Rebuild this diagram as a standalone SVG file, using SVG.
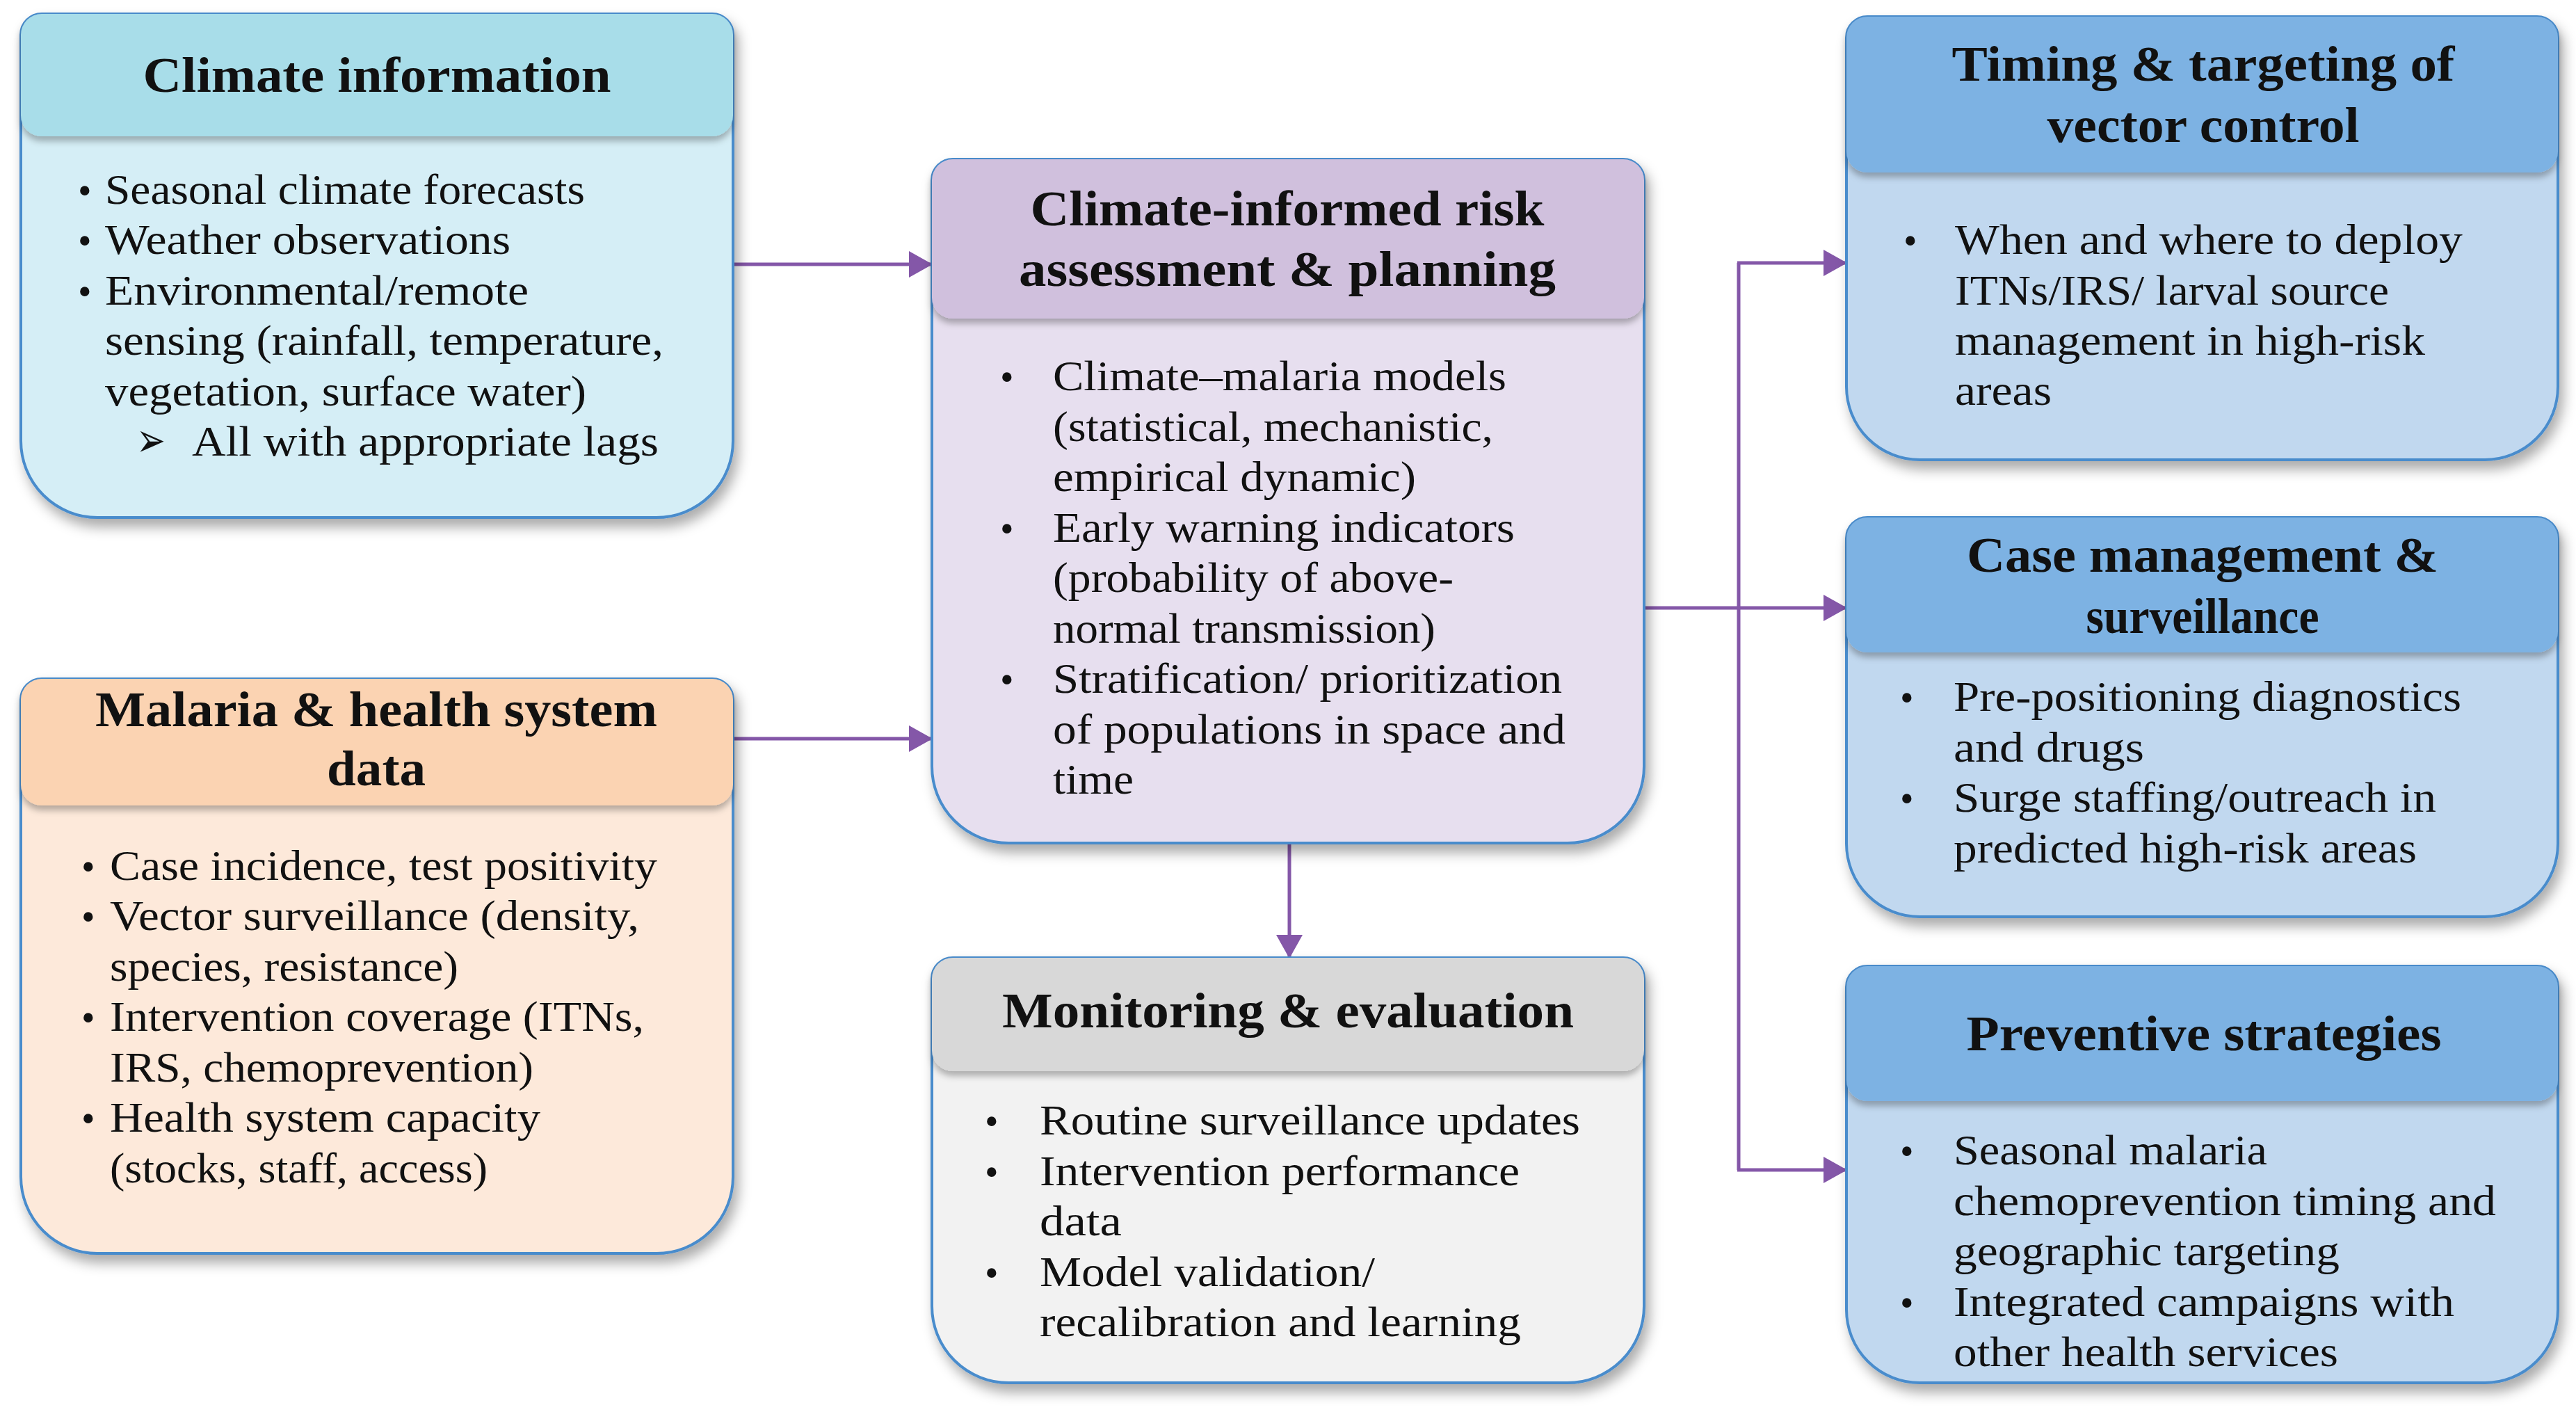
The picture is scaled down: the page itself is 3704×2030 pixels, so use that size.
<svg xmlns="http://www.w3.org/2000/svg" width="3704" height="2030" viewBox="0 0 3704 2030">
<style>
.t{font-family:"Liberation Serif","Times New Roman",serif;font-weight:bold;font-size:72px;fill:#111;text-anchor:middle}
.b{font-family:"Liberation Serif","Times New Roman",serif;font-size:62px;fill:#111}
.d{font-family:"Liberation Serif","Times New Roman",serif;font-size:56px;fill:#111}
.body{stroke:#4a8ccc;stroke-width:4;filter:url(#sh)}
.hd{filter:url(#hs)}
.cn{fill:none;stroke:#8457a8;stroke-width:5;marker-end:url(#ah)}
</style>
<defs>
<filter id="sh" x="-10%" y="-10%" width="125%" height="125%">
<feDropShadow dx="6" dy="12" stdDeviation="9" flood-color="#000" flood-opacity="0.33"/>
</filter>
<filter id="hs" x="-5%" y="-10%" width="115%" height="130%">
<feDropShadow dx="0" dy="7" stdDeviation="5" flood-color="#000" flood-opacity="0.28"/>
</filter>
<marker id="ah" viewBox="0 0 34 38" refX="33" refY="19" markerWidth="34" markerHeight="38" markerUnits="userSpaceOnUse" orient="auto">
<path d="M0,0 L34,19 L0,38 Z" fill="#8457a8"/>
</marker>
</defs>
<rect width="3704" height="2030" fill="#ffffff"/>

<g id="connectors">
<line class="cn" x1="1054" y1="380" x2="1340" y2="380"/>
<line class="cn" x1="1054" y1="1062" x2="1340" y2="1062"/>
<line class="cn" x1="1854" y1="1212" x2="1854" y2="1377"/>
<line class="cn" x1="2364" y1="874" x2="2655" y2="874"/>
<line x1="2500" y1="378" x2="2500" y2="1682" stroke="#8457a8" stroke-width="5"/>
<line class="cn" x1="2498" y1="378" x2="2655" y2="378"/>
<line class="cn" x1="2498" y1="1682" x2="2655" y2="1682"/>
</g>

<g id="climate-information">
<path class="body" fill="#d5eef6" d="M60,20 H1024 A30,30 0 0 1 1054,50 V634 A110,110 0 0 1 944,744 H140 A110,110 0 0 1 30,634 V50 A30,30 0 0 1 60,20 Z"/>
<rect class="hd" x="30" y="20" width="1024" height="176" rx="30" fill="#a8dde9"/>
<text class="t" x="542" y="132" textLength="673" lengthAdjust="spacingAndGlyphs">Climate information</text>
<text class="d" x="112" y="293">•</text>
<text class="b" x="151" y="293" textLength="690" lengthAdjust="spacingAndGlyphs">Seasonal climate forecasts</text>
<text class="d" x="112" y="365">•</text>
<text class="b" x="151" y="365" textLength="583" lengthAdjust="spacingAndGlyphs">Weather observations</text>
<text class="d" x="112" y="438">•</text>
<text class="b" x="151" y="438" textLength="609" lengthAdjust="spacingAndGlyphs">Environmental/remote</text>
<text class="b" x="151" y="510" textLength="803" lengthAdjust="spacingAndGlyphs">sensing (rainfall, temperature,</text>
<text class="b" x="151" y="583" textLength="692" lengthAdjust="spacingAndGlyphs">vegetation, surface water)</text>
<text x="196" y="656" font-family="DejaVu Sans, sans-serif" font-size="68" fill="#111" textLength="42" lengthAdjust="spacingAndGlyphs">➢</text>
<text class="b" x="276" y="655" textLength="671" lengthAdjust="spacingAndGlyphs">All with appropriate lags</text>
</g>

<g id="malaria-health-data">
<path class="body" fill="#fde9da" d="M60,976 H1024 A30,30 0 0 1 1054,1006 V1692 A110,110 0 0 1 944,1802 H140 A110,110 0 0 1 30,1692 V1006 A30,30 0 0 1 60,976 Z"/>
<rect class="hd" x="30" y="976" width="1024" height="182" rx="30" fill="#fbd3b2"/>
<text class="t" x="541" y="1044" textLength="808" lengthAdjust="spacingAndGlyphs">Malaria &amp; health system</text>
<text class="t" x="541" y="1129" textLength="142" lengthAdjust="spacingAndGlyphs">data</text>
<text class="d" x="117" y="1265">•</text>
<text class="b" x="158" y="1265" textLength="787" lengthAdjust="spacingAndGlyphs">Case incidence, test positivity</text>
<text class="d" x="117" y="1337">•</text>
<text class="b" x="158" y="1337" textLength="761" lengthAdjust="spacingAndGlyphs">Vector surveillance (density,</text>
<text class="b" x="158" y="1410" textLength="501" lengthAdjust="spacingAndGlyphs">species, resistance)</text>
<text class="d" x="117" y="1482">•</text>
<text class="b" x="158" y="1482" textLength="768" lengthAdjust="spacingAndGlyphs">Intervention coverage (ITNs,</text>
<text class="b" x="158" y="1555" textLength="609" lengthAdjust="spacingAndGlyphs">IRS, chemoprevention)</text>
<text class="d" x="117" y="1627">•</text>
<text class="b" x="158" y="1627" textLength="619" lengthAdjust="spacingAndGlyphs">Health system capacity</text>
<text class="b" x="158" y="1700" textLength="543" lengthAdjust="spacingAndGlyphs">(stocks, staff, access)</text>
</g>

<g id="risk-assessment">
<path class="body" fill="#e7dfef" d="M1370,229 H2334 A30,30 0 0 1 2364,259 V1102 A110,110 0 0 1 2254,1212 H1450 A110,110 0 0 1 1340,1102 V259 A30,30 0 0 1 1370,229 Z"/>
<rect class="hd" x="1340" y="229" width="1024" height="229" rx="30" fill="#d0c0dd"/>
<text class="t" x="1851" y="324" textLength="739" lengthAdjust="spacingAndGlyphs">Climate-informed risk</text>
<text class="t" x="1851" y="411" textLength="772" lengthAdjust="spacingAndGlyphs">assessment &amp; planning</text>
<text class="d" x="1438" y="561">•</text>
<text class="b" x="1514" y="561" textLength="652" lengthAdjust="spacingAndGlyphs">Climate–malaria models</text>
<text class="b" x="1514" y="634" textLength="633" lengthAdjust="spacingAndGlyphs">(statistical, mechanistic,</text>
<text class="b" x="1514" y="706" textLength="522" lengthAdjust="spacingAndGlyphs">empirical dynamic)</text>
<text class="d" x="1438" y="779">•</text>
<text class="b" x="1514" y="779" textLength="664" lengthAdjust="spacingAndGlyphs">Early warning indicators</text>
<text class="b" x="1514" y="851" textLength="576" lengthAdjust="spacingAndGlyphs">(probability of above-</text>
<text class="b" x="1514" y="924" textLength="550" lengthAdjust="spacingAndGlyphs">normal transmission)</text>
<text class="d" x="1438" y="996">•</text>
<text class="b" x="1514" y="996" textLength="732" lengthAdjust="spacingAndGlyphs">Stratification/ prioritization</text>
<text class="b" x="1514" y="1069" textLength="737" lengthAdjust="spacingAndGlyphs">of populations in space and</text>
<text class="b" x="1514" y="1141" textLength="116" lengthAdjust="spacingAndGlyphs">time</text>
</g>

<g id="monitoring-evaluation">
<path class="body" fill="#f2f2f2" d="M1370,1377 H2334 A30,30 0 0 1 2364,1407 V1878 A110,110 0 0 1 2254,1988 H1450 A110,110 0 0 1 1340,1878 V1407 A30,30 0 0 1 1370,1377 Z"/>
<rect class="hd" x="1340" y="1377" width="1024" height="163" rx="30" fill="#d8d8d8"/>
<text class="t" x="1852" y="1477" textLength="822" lengthAdjust="spacingAndGlyphs">Monitoring &amp; evaluation</text>
<text class="d" x="1416" y="1631">•</text>
<text class="b" x="1495" y="1631" textLength="777" lengthAdjust="spacingAndGlyphs">Routine surveillance updates</text>
<text class="d" x="1416" y="1704">•</text>
<text class="b" x="1495" y="1704" textLength="690" lengthAdjust="spacingAndGlyphs">Intervention performance</text>
<text class="b" x="1495" y="1776" textLength="118" lengthAdjust="spacingAndGlyphs">data</text>
<text class="d" x="1416" y="1849">•</text>
<text class="b" x="1495" y="1849" textLength="482" lengthAdjust="spacingAndGlyphs">Model validation/</text>
<text class="b" x="1495" y="1921" textLength="692" lengthAdjust="spacingAndGlyphs">recalibration and learning</text>
</g>

<g id="vector-control">
<path class="body" fill="#c1d8ef" d="M2685,24 H3648 A30,30 0 0 1 3678,54 V556 A105,105 0 0 1 3573,661 H2760 A105,105 0 0 1 2655,556 V54 A30,30 0 0 1 2685,24 Z"/>
<rect class="hd" x="2655" y="24" width="1023" height="224" rx="30" fill="#7db2e3"/>
<text class="t" x="3168" y="116" textLength="723" lengthAdjust="spacingAndGlyphs">Timing &amp; targeting of</text>
<text class="t" x="3168" y="204" textLength="449" lengthAdjust="spacingAndGlyphs">vector control</text>
<text class="d" x="2737" y="365">•</text>
<text class="b" x="2811" y="365" textLength="730" lengthAdjust="spacingAndGlyphs">When and where to deploy</text>
<text class="b" x="2811" y="438" textLength="624" lengthAdjust="spacingAndGlyphs">ITNs/IRS/ larval source</text>
<text class="b" x="2811" y="510" textLength="676" lengthAdjust="spacingAndGlyphs">management in high-risk</text>
<text class="b" x="2811" y="582" textLength="139" lengthAdjust="spacingAndGlyphs">areas</text>
</g>

<g id="case-management">
<path class="body" fill="#c1d8ef" d="M2685,744 H3648 A30,30 0 0 1 3678,774 V1213 A105,105 0 0 1 3573,1318 H2760 A105,105 0 0 1 2655,1213 V774 A30,30 0 0 1 2685,744 Z"/>
<rect class="hd" x="2655" y="744" width="1023" height="194" rx="30" fill="#7db2e3"/>
<text class="t" x="3167" y="822" textLength="678" lengthAdjust="spacingAndGlyphs">Case management &amp;</text>
<text class="t" x="3167" y="910" textLength="335" lengthAdjust="spacingAndGlyphs">surveillance</text>
<text class="d" x="2732" y="1022">•</text>
<text class="b" x="2809" y="1022" textLength="730" lengthAdjust="spacingAndGlyphs">Pre-positioning diagnostics</text>
<text class="b" x="2809" y="1095" textLength="274" lengthAdjust="spacingAndGlyphs">and drugs</text>
<text class="d" x="2732" y="1167">•</text>
<text class="b" x="2809" y="1167" textLength="694" lengthAdjust="spacingAndGlyphs">Surge staffing/outreach in</text>
<text class="b" x="2809" y="1240" textLength="666" lengthAdjust="spacingAndGlyphs">predicted high-risk areas</text>
</g>

<g id="preventive-strategies">
<path class="body" fill="#c1d8ef" d="M2685,1389 H3648 A30,30 0 0 1 3678,1419 V1883 A105,105 0 0 1 3573,1988 H2760 A105,105 0 0 1 2655,1883 V1419 A30,30 0 0 1 2685,1389 Z"/>
<rect class="hd" x="2655" y="1389" width="1023" height="194" rx="30" fill="#7db2e3"/>
<text class="t" x="3169" y="1510" textLength="683" lengthAdjust="spacingAndGlyphs">Preventive strategies</text>
<text class="d" x="2732" y="1674">•</text>
<text class="b" x="2809" y="1674" textLength="451" lengthAdjust="spacingAndGlyphs">Seasonal malaria</text>
<text class="b" x="2809" y="1747" textLength="780" lengthAdjust="spacingAndGlyphs">chemoprevention timing and</text>
<text class="b" x="2809" y="1819" textLength="555" lengthAdjust="spacingAndGlyphs">geographic targeting</text>
<text class="d" x="2732" y="1892">•</text>
<text class="b" x="2809" y="1892" textLength="720" lengthAdjust="spacingAndGlyphs">Integrated campaigns with</text>
<text class="b" x="2809" y="1964" textLength="553" lengthAdjust="spacingAndGlyphs">other health services</text>
</g>
</svg>
